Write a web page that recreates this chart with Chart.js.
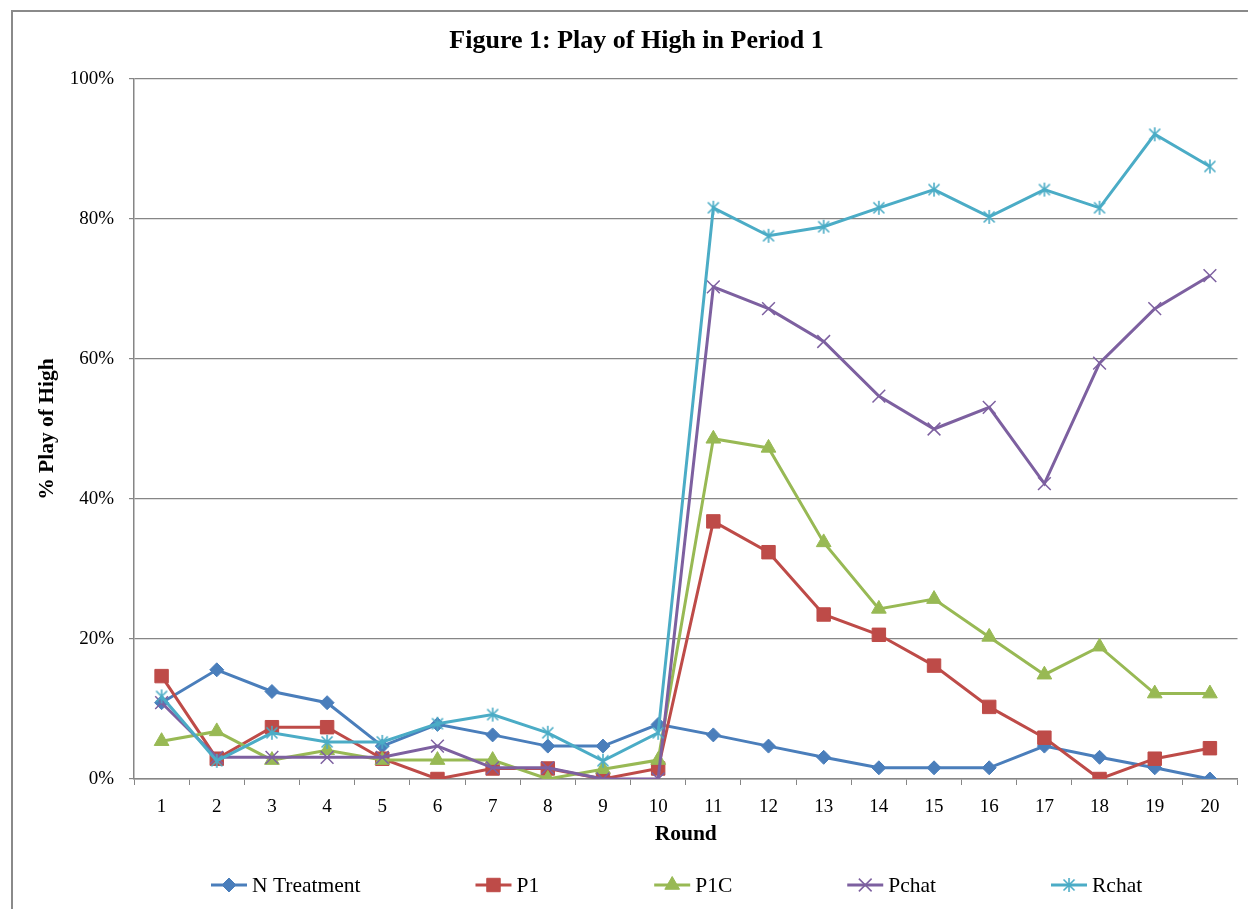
<!DOCTYPE html>
<html>
<head>
<meta charset="utf-8">
<script src="https://cdn.jsdelivr.net/npm/chart.js@4.4.1/dist/chart.umd.min.js"></script>
<style>
  html, body { margin: 0; padding: 0; background: #fff; overflow: hidden; }
  #frame { position: absolute; left: 11px; top: 10px; width: 1300px; height: 1000px; border: 2px solid #8a8a8a; }
  #myChart { position: absolute; left: 0; top: 0; }
</style>
</head>
<body>
<div id="frame"></div>
<canvas id="myChart" width="1248" height="909"></canvas>
<script>
const rounds = ['1', '2', '3', '4', '5', '6', '7', '8', '9', '10', '11', '12', '13', '14', '15', '16', '17', '18', '19', '20'];
const nTreatment = [10.9, 15.6, 12.5, 10.9, 4.7, 7.8, 6.3, 4.7, 4.7, 7.8, 6.3, 4.7, 3.1, 1.6, 1.6, 1.6, 4.7, 3.1, 1.6, 0];
const p1 = [14.7, 2.9, 7.4, 7.4, 2.9, 0, 1.5, 1.5, 0, 1.5, 36.8, 32.4, 23.5, 20.6, 16.2, 10.3, 5.9, 0, 2.9, 4.4];
const p1c = [5.4, 6.8, 2.7, 4.1, 2.7, 2.7, 2.7, 0, 1.4, 2.7, 48.6, 47.3, 33.8, 24.3, 25.7, 20.3, 14.9, 18.9, 12.2, 12.2];
const pchat = [10.9, 3.1, 3.1, 3.1, 3.1, 4.7, 1.6, 1.6, 0, 0, 70.3, 67.2, 62.5, 54.7, 50.0, 53.1, 42.2, 59.4, 67.2, 71.9];
const rchat = [11.8, 2.6, 6.6, 5.3, 5.3, 7.9, 9.2, 6.6, 2.6, 6.6, 81.6, 77.6, 78.9, 81.6, 84.2, 80.3, 84.2, 81.6, 92.1, 87.5];
const yTicks = [0, 20, 40, 60, 80, 100];

const grey = '#868686';
const serif = "'Liberation Serif', 'Times New Roman', serif";

// excel style asterisk marker (vertical bar + x)
function asterisk(color) {
    const c = document.createElement('canvas');
    c.width = 18; c.height = 18;
    const g = c.getContext('2d');
    g.strokeStyle = color;
    g.lineWidth = 1.6;
    g.beginPath();
    g.moveTo(9, 2); g.lineTo(9, 16);
    g.moveTo(3.5, 3.5); g.lineTo(14.5, 14.5);
    g.moveTo(14.5, 3.5); g.lineTo(3.5, 14.5);
    g.stroke();
    return c;
}

function series(label, data, color, style, radius, order, bw) {
    return {
        label: label,
        data: data,
        borderColor: color,
        backgroundColor: color,
        borderWidth: 3,
        pointStyle: style,
        pointRadius: radius,
        pointHoverRadius: radius,
        pointBorderWidth: bw,
        pointBackgroundColor: color,
        pointBorderColor: color,
        tension: 0,
        order: order
    };
}

// legend drawn by hand so the spacing matches excel
const bottomLegend = {
    id: 'bottomLegend',
    afterDraw(chart) {
        const ctx = chart.ctx;
        const y = 885;
        let x = 211;
        ctx.save();
        ctx.font = '21.5px ' + serif;
        ctx.textBaseline = 'middle';
        ctx.textAlign = 'left';
        chart.data.datasets.forEach(ds => {
            ctx.strokeStyle = ds.borderColor;
            ctx.lineWidth = 3;
            ctx.beginPath();
            ctx.moveTo(x, y);
            ctx.lineTo(x + 36, y);
            ctx.stroke();
            ctx.fillStyle = ds.backgroundColor;
            ctx.lineWidth = ds.pointBorderWidth;
            if (Chart.helpers && Chart.helpers.drawPoint) {
                Chart.helpers.drawPoint(ctx, {
                    pointStyle: ds.pointStyle,
                    radius: ds.pointRadius,
                    borderWidth: ds.pointBorderWidth,
                    rotation: 0
                }, x + 18, y);
            }
            ctx.fillStyle = '#000';
            ctx.fillText(ds.label, x + 41, y + 1);
            x += 41 + ctx.measureText(ds.label).width + 115;
        });
        ctx.restore();
    }
};

Chart.defaults.color = '#000';
Chart.defaults.font.family = serif;

new Chart(document.getElementById('myChart'), {
    type: 'line',
    data: {
        labels: rounds,
        datasets: [
            series('N Treatment', nTreatment, '#4A7EBB', 'rectRot', 7, 4, 1),
            series('P1', p1, '#BE4B48', 'rect', 9.5, 3, 1),
            series('P1C', p1c, '#98B954', 'triangle', 8.5, 2, 1),
            series('Pchat', pchat, '#7D60A0', 'crossRot', 9, 1, 1.5),
            series('Rchat', rchat, '#4BACC6', asterisk('#4BACC6'), 9, 0, 1.5)
        ]
    },
    options: {
        responsive: false,
        devicePixelRatio: 1,
        animation: false,
        layout: { padding: { left: 35, right: 10, top: 0, bottom: 60 } },
        plugins: {
            legend: { display: false },
            tooltip: { enabled: false },
            title: {
                display: true,
                text: 'Figure 1: Play of High in Period 1',
                font: { size: 26, weight: 'bold', family: serif },
                color: '#000',
                padding: { top: 25.4, bottom: 22.4 }
            }
        },
        scales: {
            x: {
                offset: true,
                afterFit: s => { s.height = 70; },
                grid: {
                    offset: true,
                    drawOnChartArea: false,
                    drawTicks: true,
                    tickLength: 6,
                    color: grey
                },
                border: { color: grey, width: 1.5 },
                ticks: { font: { size: 19 }, padding: 11, maxRotation: 0 },
                title: {
                    display: true,
                    text: 'Round',
                    font: { size: 21.5, weight: 'bold' },
                    padding: { top: 0, bottom: 2 }
                }
            },
            y: {
                min: 0,
                max: 100,
                afterFit: s => { s.width = 99; },
                afterBuildTicks: s => { s.ticks = yTicks.map(v => ({ value: v })); },
                grid: {
                    color: grey,
                    lineWidth: 1.2,
                    drawTicks: true,
                    tickLength: 5
                },
                border: { color: grey, width: 1.5 },
                ticks: {
                    font: { size: 19 },
                    padding: 15,
                    callback: v => v + '%'
                },
                title: {
                    display: true,
                    text: '% Play of High',
                    font: { size: 21.5, weight: 'bold' },
                    padding: { top: 0, bottom: 0 }
                }
            }
        }
    },
    plugins: [bottomLegend]
});
</script>
</body>
</html>
